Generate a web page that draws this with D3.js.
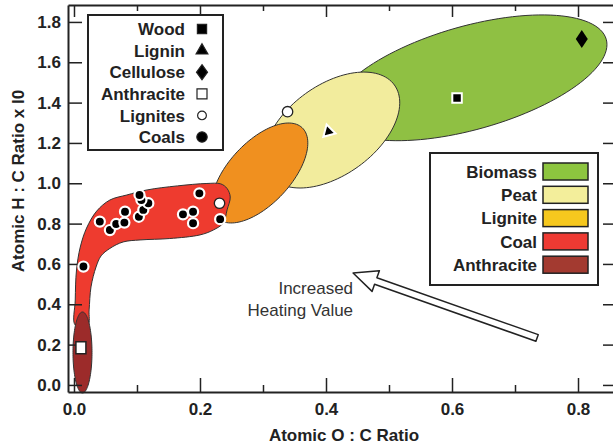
<!DOCTYPE html>
<html>
<head>
<meta charset="utf-8">
<script src="https://cdn.jsdelivr.net/npm/d3@7"></script>
<style>
  body { margin: 0; background: #fff; }
  svg { display: block; font-family: "Liberation Sans", Arial, sans-serif; }
  .axis text { font-size: 17px; font-weight: bold; fill: #222; }
  .axis path, .axis line { stroke: #222; }
</style>
</head>
<body>
<div id="chart"></div>
<script>
// ---- data (atomic O:C ratio, atomic H:C ratio) ----
var xTicks = [0, 0.2, 0.4, 0.6, 0.8];
var xMinor = [0.1, 0.3, 0.5, 0.7];
var yTicks = [0, 0.2, 0.4, 0.6, 0.8, 1.0, 1.2, 1.4, 1.6, 1.8];

var fuelNames = ["Biomass", "Peat", "Lignite", "Coal", "Anthracite"];
var fuelColors = ["#8dc53f", "#f3ee9b", "#f6c81e", "#ee3a33", "#a33a30"];

// ellipse regions: centre, semi-axis a, semi-axis b (data units)
var regions = [
  {name: "Biomass", fill: "#8fc043", c: [0.6286, 1.523], a: [0.2162, 0.1909], b: [0.0223, -0.2466]},
  {name: "Peat", fill: "#f2ec9d", c: [0.4095, 1.264], a: [0.0991, 0.2233], b: [0.0418, -0.181]},
  {name: "Lignite", fill: "#f0901f", c: [0.295, 1.051], a: [0.0671, 0.2246], b: [0.036, -0.1048]}
];
var anthraciteRegion = {name: "Anthracite", fill: "#9c2b2a", c: [0.0135, 0.161], a: [0, 0.2008], b: [0.0151, 0]};

var coalOutline = [
  [0.002, 0.297], [0.002, 0.421], [0.004, 0.570], [0.010, 0.684], [0.020, 0.778],
  [0.036, 0.862], [0.057, 0.917], [0.084, 0.942], [0.116, 0.967], [0.164, 0.987],
  [0.211, 0.999], [0.233, 0.997], [0.243, 0.974], [0.248, 0.932], [0.243, 0.868],
  [0.237, 0.803], [0.221, 0.768], [0.200, 0.744], [0.152, 0.726], [0.105, 0.719],
  [0.078, 0.709], [0.057, 0.677], [0.043, 0.640], [0.035, 0.585], [0.027, 0.486],
  [0.024, 0.372], [0.022, 0.297]
];

var coals = [
  [0.041, 0.810], [0.057, 0.768], [0.067, 0.798], [0.080, 0.805], [0.081, 0.859],
  [0.103, 0.834], [0.110, 0.868], [0.118, 0.901], [0.107, 0.917], [0.104, 0.942],
  [0.199, 0.950], [0.173, 0.846], [0.189, 0.859], [0.189, 0.802], [0.232, 0.822],
  [0.015, 0.587]
];
var lignites = [[0.339, 1.355], [0.231, 0.901]];
var wood = [[0.608, 1.423]];
var lignin = [[0.404, 1.256]];
var cellulose = [[0.806, 1.715]];
var anthracite = [[0.011, 0.185]];

var sampleNames = ["Wood", "Lignin", "Cellulose", "Anthracite", "Lignites", "Coals"];

var arrowTail = [0.735, 0.233], arrowTip = [0.443, 0.555];
var arrowText = ["Increased", "Heating Value"];

// ---- layout ----
var width = 613, height = 446;
var x = d3.scaleLinear().domain([-0.0095, 0.8603]).range([68, 616]);
var y = d3.scaleLinear().domain([-0.035, 1.884]).range([392, 5]);

var svg = d3.select("#chart").append("svg")
  .attr("width", width)
  .attr("height", height);

// regions
function ellipsePath(r) {
  var pts = d3.range(0, 120).map(function(i) {
    var t = i / 120 * Math.PI * 2;
    return [r.c[0] + Math.cos(t) * r.a[0] + Math.sin(t) * r.b[0],
            r.c[1] + Math.cos(t) * r.a[1] + Math.sin(t) * r.b[1]];
  });
  return d3.line().x(d => x(d[0])).y(d => y(d[1])).curve(d3.curveLinearClosed)(pts);
}

svg.append("g").selectAll("path")
  .data(regions)
  .enter().append("path")
  .attr("d", ellipsePath)
  .attr("fill", d => d.fill)
  .attr("stroke", "#333")
  .attr("stroke-width", 1);

svg.append("path")
  .attr("d", d3.line().x(d => x(d[0])).y(d => y(d[1])).curve(d3.curveCatmullRomClosed.alpha(0.5))(coalOutline))
  .attr("fill", "#ee3b2f")
  .attr("stroke", "#333")
  .attr("stroke-width", 1);

svg.append("path")
  .attr("d", ellipsePath(anthraciteRegion))
  .attr("fill", anthraciteRegion.fill)
  .attr("stroke", "#333")
  .attr("stroke-width", 1);

// axes
var yAxis = d3.axisLeft(y).tickValues(yTicks).tickFormat(d3.format(".1f"))
  .tickSizeInner(-14).tickSizeOuter(0).tickPadding(7);
svg.append("g").attr("class", "axis").attr("transform", "translate(68,0)").call(yAxis)
  .selectAll("path").attr("stroke-width", 2);

var xAxis = d3.axisBottom(x).tickValues(xTicks).tickFormat(d3.format(".1f"))
  .tickSizeInner(-14).tickSizeOuter(0).tickPadding(11);
svg.append("g").attr("class", "axis").attr("transform", "translate(0,392)").call(xAxis)
  .selectAll("path").attr("stroke-width", 2);

var xMinorAxis = d3.axisBottom(x).tickValues(xMinor).tickFormat("").tickSizeInner(-7).tickSizeOuter(0);
svg.append("g").attr("class", "axis").attr("transform", "translate(0,392)").call(xMinorAxis)
  .select(".domain").remove();

var xTop = d3.axisTop(x).tickValues(xTicks).tickFormat("").tickSizeInner(-12).tickSizeOuter(0);
svg.append("g").attr("class", "axis").attr("transform", "translate(0,5)").call(xTop)
  .selectAll("path").attr("stroke-width", 2);
var xTopMinor = d3.axisTop(x).tickValues(xMinor).tickFormat("").tickSizeInner(-6).tickSizeOuter(0);
svg.append("g").attr("class", "axis").attr("transform", "translate(0,5)").call(xTopMinor)
  .select(".domain").remove();

var yRight = d3.axisRight(y).tickValues(yTicks).tickFormat("").tickSizeInner(-13).tickSizeOuter(0);
svg.append("g").attr("class", "axis").attr("transform", "translate(616,0)").call(yRight)
  .select(".domain").remove();

svg.selectAll(".axis .tick line").attr("stroke-width", 1.5);

// axis titles
svg.append("text")
  .attr("x", 344).attr("y", 441)
  .attr("text-anchor", "middle")
  .attr("font-size", 17).attr("font-weight", "bold").attr("fill", "#222")
  .text("Atomic O : C Ratio");

svg.append("text")
  .attr("transform", "translate(24,181) rotate(-90)")
  .attr("text-anchor", "middle")
  .attr("font-size", 17).attr("font-weight", "bold").attr("fill", "#222")
  .text("Atomic H : C Ratio x I0");

// arrow
(function() {
  var x0 = x(arrowTail[0]), y0 = y(arrowTail[1]);
  var x1 = x(arrowTip[0]), y1 = y(arrowTip[1]);
  var dx = x1 - x0, dy = y1 - y0, len = Math.sqrt(dx * dx + dy * dy);
  var ux = dx / len, uy = dy / len, px = -uy, py = ux;
  var shaft = 3.5, head = 11, headLen = 24;
  var bx = x1 - ux * headLen, by = y1 - uy * headLen;
  var pts = [
    [x0 + px * shaft, y0 + py * shaft],
    [bx + px * shaft, by + py * shaft],
    [bx + px * head, by + py * head],
    [x1, y1],
    [bx - px * head, by - py * head],
    [bx - px * shaft, by - py * shaft],
    [x0 - px * shaft, y0 - py * shaft]
  ];
  svg.append("path")
    .attr("d", d3.line()(pts) + "Z")
    .attr("fill", "#fff")
    .attr("stroke", "#222")
    .attr("stroke-width", 1.5)
    .attr("stroke-linejoin", "round");
})();

svg.append("g").selectAll("text")
  .data(arrowText)
  .enter().append("text")
  .attr("x", x(arrowTip[0]))
  .attr("y", (d, i) => y(arrowTip[1]) + 21 + i * 22)
  .attr("text-anchor", "end")
  .attr("font-size", 17).attr("fill", "#333")
  .text(d => d);

// sample markers
var sym = {
  square: d3.symbol().type(d3.symbolSquare),
  triangle: d3.symbol().type(d3.symbolTriangle),
  circle: d3.symbol().type(d3.symbolCircle)
};
function diamond(w, h) {
  return "M0," + (-h / 2) + "L" + (w / 2) + ",0L0," + (h / 2) + "L" + (-w / 2) + ",0Z";
}

svg.append("g").selectAll("path")
  .data(coals)
  .enter().append("path")
  .attr("transform", d => "translate(" + x(d[0]) + "," + y(d[1]) + ")")
  .attr("d", sym.circle.size(80)())
  .attr("fill", "#000").attr("stroke", "#fff").attr("stroke-width", 2.2);

svg.append("g").selectAll("path")
  .data(lignites)
  .enter().append("path")
  .attr("transform", d => "translate(" + x(d[0]) + "," + y(d[1]) + ")")
  .attr("d", sym.circle.size(85)())
  .attr("fill", "#fff").attr("stroke", "#222").attr("stroke-width", 1.3);

svg.append("g").selectAll("path")
  .data(wood)
  .enter().append("path")
  .attr("transform", d => "translate(" + x(d[0]) + "," + y(d[1]) + ")")
  .attr("d", sym.square.size(90)())
  .attr("fill", "#000").attr("stroke", "#fff").attr("stroke-width", 2);

svg.append("g").selectAll("path")
  .data(lignin)
  .enter().append("path")
  .attr("transform", d => "translate(" + x(d[0]) + "," + y(d[1]) + ") rotate(-15)")
  .attr("d", sym.triangle.size(70)())
  .attr("fill", "#000").attr("stroke", "#fff").attr("stroke-width", 2);

svg.append("g").selectAll("path")
  .data(cellulose)
  .enter().append("path")
  .attr("transform", d => "translate(" + x(d[0]) + "," + y(d[1]) + ")")
  .attr("d", diamond(12, 18))
  .attr("fill", "#000");

svg.append("g").selectAll("path")
  .data(anthracite)
  .enter().append("path")
  .attr("transform", d => "translate(" + x(d[0]) + "," + y(d[1]) + ")")
  .attr("d", "M-5,-6H5V6H-5Z")
  .attr("fill", "#fff").attr("stroke", "#222").attr("stroke-width", 1.5);

// legend 1: samples
var leg1 = svg.append("g").attr("transform", "translate(88,15)");
leg1.append("rect").attr("width", 135).attr("height", 135)
  .attr("fill", "#fff").attr("stroke", "#222").attr("stroke-width", 2);
var legSym = [
  {d: sym.square.size(85)(), fill: "#000"},
  {d: sym.triangle.size(60)(), fill: "#000"},
  {d: diamond(11, 15), fill: "#000"},
  {d: "M-5,-5H5V5H-5Z", fill: "#fff"},
  {d: sym.circle.size(60)(), fill: "#fff"},
  {d: sym.circle.size(85)(), fill: "#000"}
];
var row1 = leg1.selectAll(".row").data(sampleNames).enter().append("g")
  .attr("class", "row")
  .attr("transform", (d, i) => "translate(0," + (14 + i * 21.6) + ")");
row1.append("text")
  .attr("x", 97).attr("dy", "0.36em")
  .attr("text-anchor", "end")
  .attr("font-size", 17).attr("font-weight", "bold").attr("fill", "#222")
  .text(d => d);
row1.append("path")
  .attr("transform", "translate(114,0)")
  .attr("d", (d, i) => legSym[i].d)
  .attr("fill", (d, i) => legSym[i].fill)
  .attr("stroke", "#222").attr("stroke-width", 1.2);

// legend 2: fuel types
var leg2 = svg.append("g").attr("transform", "translate(430,153)");
leg2.append("rect").attr("width", 168).attr("height", 132)
  .attr("fill", "#fff").attr("stroke", "#222").attr("stroke-width", 2);
var row2 = leg2.selectAll(".row").data(fuelNames).enter().append("g")
  .attr("class", "row")
  .attr("transform", (d, i) => "translate(0," + (18.5 + i * 23.3) + ")");
row2.append("text")
  .attr("x", 107).attr("dy", "0.36em")
  .attr("text-anchor", "end")
  .attr("font-size", 17).attr("font-weight", "bold").attr("fill", "#222")
  .text(d => d);
row2.append("rect")
  .attr("x", 113).attr("y", -8.5)
  .attr("width", 45).attr("height", 17)
  .attr("fill", (d, i) => fuelColors[i])
  .attr("stroke", "#222").attr("stroke-width", 1.5);
</script>
</body>
</html>
